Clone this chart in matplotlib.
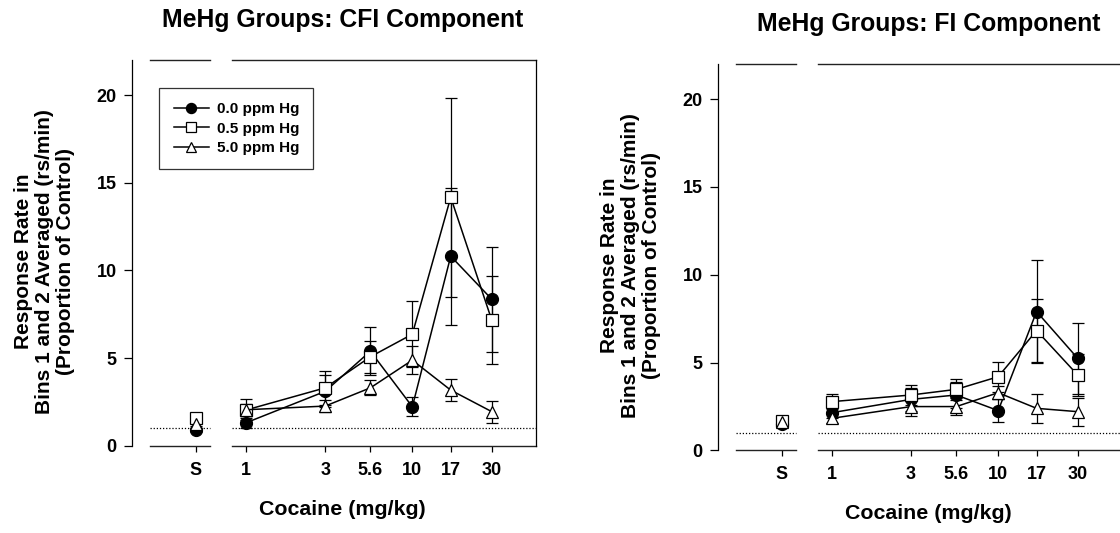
import matplotlib
matplotlib.use("Agg")
import matplotlib.pyplot as plt
from matplotlib.ticker import NullLocator

plt.rcParams['font.family'] = ['Liberation Sans', 'DejaVu Sans']
plt.rcParams['font.weight'] = 'bold'

# Cocaine doses (mg/kg) and the saline ("S") point
doses = [1, 3, 5.6, 10, 17, 30]
dose_labels = ['1', '3', '5.6', '10', '17', '30']
groups = ['0.0 ppm Hg', '0.5 ppm Hg', '5.0 ppm Hg']

# CFI component (proportion of control), mean and error
cfi_saline = [0.9, 1.6, 1.25]
cfi_saline_err = [0.1, 0.25, 0.15]
cfi_00 = [1.3, 3.1, 5.39, 2.22, 10.81, 8.35]
cfi_00_err = [0.3, 0.92, 1.38, 0.55, 3.9, 2.98]
cfi_05 = [2.03, 3.3, 5.07, 6.36, 14.17, 7.15]
cfi_05_err = [0.35, 0.95, 0.9, 1.89, 5.69, 2.51]
cfi_50 = [2.05, 2.26, 3.3, 4.88, 3.17, 1.94]
cfi_50_err = [0.6, 0.35, 0.42, 0.8, 0.64, 0.63]

# FI component
fi_saline = [1.5, 1.65, 1.6]
fi_saline_err = [0.1, 0.2, 0.15]
fi_00 = [2.14, 2.9, 3.15, 2.26, 7.9, 5.24]
fi_00_err = [0.3, 0.67, 0.76, 0.66, 2.92, 2.03]
fi_05 = [2.77, 3.15, 3.47, 4.19, 6.82, 4.29]
fi_05_err = [0.42, 0.57, 0.59, 0.86, 1.8, 1.2]
fi_50 = [1.82, 2.49, 2.49, 3.28, 2.39, 2.2]
fi_50_err = [0.28, 0.52, 0.5, 0.38, 0.82, 0.8]

S_POS = 0.5
XMIN, XMAX = 0.2665, 55
BREAK = (0.612, 0.83)
styles = [('o', 'black', 8.6), ('s', 'white', 8.0), ('^', 'white', 8.2)]
ylab = 'Response Rate in\nBins 1 and 2 Averaged (rs/min)\n(Proportion of Control)'


def panel(ax, saline, saline_err, series, errs, title, legend=False):
    for (m, fc, ms), ys, es, sv, se, lab in zip(styles, series, errs, saline, saline_err, groups):
        ax.errorbar(doses, ys, yerr=es, fmt='none', ecolor='black', elinewidth=0.9,
                    capsize=4, capthick=0.9, zorder=2)
        ax.errorbar([S_POS], [sv], yerr=[se], fmt='none', ecolor='black', elinewidth=0.9,
                    capsize=4, capthick=0.9, zorder=2)
        ax.plot(doses, ys, color='black', lw=1.1, marker=m, ms=ms, mfc=fc, mec='black',
                mew=0.9, label=lab, zorder=3)
        ax.plot([S_POS], [sv], ls='none', marker=m, ms=ms, mfc=fc, mec='black', mew=0.9, zorder=3)

    ax.set_xscale('log')
    ax.set_xlim(XMIN, XMAX)
    ax.set_ylim(0, 22)
    ax.set_xticks([S_POS] + doses)
    ax.set_xticklabels(['S'] + dose_labels)
    ax.xaxis.set_minor_locator(NullLocator())
    ax.set_yticks([0, 5, 10, 15, 20])
    ax.tick_params(axis='x', direction='out', length=4.5, width=0.9, pad=7, labelsize=13)
    ax.tick_params(axis='y', direction='out', length=6, width=0.9, pad=5, labelsize=13)

    # broken frame: bottom/top lines and reference line at 1.0
    ax.spines['top'].set_visible(False)
    ax.spines['bottom'].set_visible(False)
    ax.spines['left'].set_position(('outward', 13))
    ax.spines['left'].set_linewidth(0.9)
    ax.spines['right'].set_linewidth(0.9)
    tr = ax.get_xaxis_transform()
    for a, b in [(XMIN, BREAK[0]), (BREAK[1], XMAX)]:
        ax.plot([a, b], [0, 0], transform=tr, color='#222222', lw=1.0, clip_on=False)
        ax.plot([a, b], [1, 1], transform=tr, color='#222222', lw=1.0, clip_on=False)
        ax.plot([a, b], [1, 1], color='black', lw=0.9, ls=(0, (1, 1.5)), zorder=1)

    ax.set_title(title, fontsize=17.8, fontweight='bold', pad=24)
    ax.set_xlabel('Cocaine (mg/kg)', fontsize=15.4, fontweight='bold')
    ax.xaxis.set_label_coords(0.5, -54 / 386)
    ax.text(-0.2735, 0.478, ylab, transform=ax.transAxes, rotation=90, ha='center',
            va='center', fontsize=15, linespacing=1.13, multialignment='center')

    if legend:
        leg = ax.legend(loc='upper left', bbox_to_anchor=(0.024, 0.928), borderaxespad=0,
                        fancybox=False, edgecolor='black', fontsize=11, handlelength=2.3,
                        handletextpad=0.5, labelspacing=0.35, borderpad=0.95, markerscale=0.85)
        leg.get_frame().set_linewidth(0.9)


fig = plt.figure(figsize=(11.2, 5.33), dpi=100)
ax1 = fig.add_axes([150 / 1120, 87.3 / 533, 385.7 / 1120, 385.7 / 533])
ax2 = fig.add_axes([736 / 1120, 82.7 / 533, 385.5 / 1120, 386.3 / 533])

panel(ax1, cfi_saline, cfi_saline_err, [cfi_00, cfi_05, cfi_50],
      [cfi_00_err, cfi_05_err, cfi_50_err], 'MeHg Groups: CFI Component', legend=True)
panel(ax2, fi_saline, fi_saline_err, [fi_00, fi_05, fi_50],
      [fi_00_err, fi_05_err, fi_50_err], 'MeHg Groups: FI Component')

fig.savefig('out.png', dpi=100)
